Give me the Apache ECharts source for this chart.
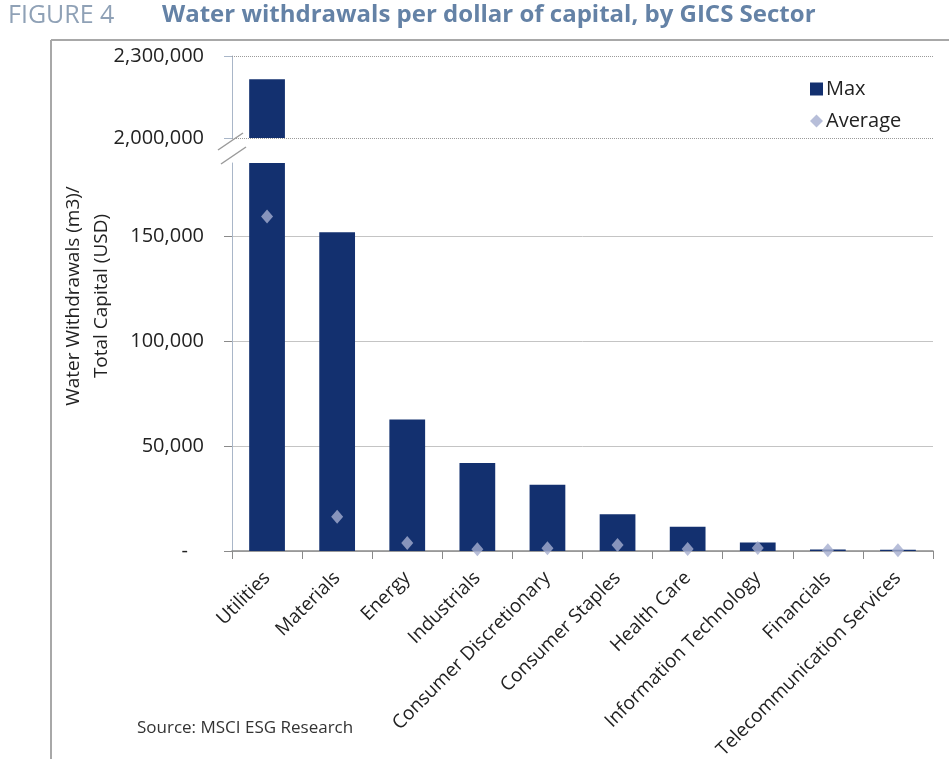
<!DOCTYPE html>
<html>
<head>
<meta charset="utf-8">
<script src="https://cdn.jsdelivr.net/npm/echarts@6/dist/echarts.min.js"></script>
<style>
  html, body { margin: 0; padding: 0; background: #fff; }
  #chart { width: 949px; height: 759px; }
</style>
</head>
<body>
<div id="chart"></div>
<script>
// GICS sectors and water withdrawals per dollar of total capital (m3 / USD)
const sectors = ['Utilities', 'Materials', 'Energy', 'Industrials', 'Consumer Discretionary',
  'Consumer Staples', 'Health Care', 'Information Technology', 'Financials', 'Telecommunication Services'];
const maxValues = [2215000, 152000, 62700, 42000, 31600, 17500, 11600, 4100, 700, 600];
const averageValues = [159500, 16300, 3800, 800, 1300, 2900, 1000, 1400, 300, 300];

// broken value axis: upper segment and lower segment
const upperMin = 2000000;
const upperMax = 2300000;
const upperTicks = [2000000, 2300000];
const lowerMax = 185000;
const lowerTicks = [0, 50000, 100000, 150000];

const FONT = 'Open Sans';
const BAR = '#13306f';
const DIAMOND = '#a5aecf';

const fmt = v => (v === 0 ? '{dash|-}' : v.toLocaleString('en-US'));

const chart = echarts.init(document.getElementById('chart'), null, { renderer: 'canvas' });

chart.setOption({
  animation: false,
  backgroundColor: '#fff',
  textStyle: { fontFamily: FONT },
  grid: [
    { left: 232, right: 16, top: 56, height: 82, containLabel: false, outerBoundsMode: 'none' },
    { left: 232, right: 16, top: 163, bottom: 208, containLabel: false, outerBoundsMode: 'none' }
  ],
  legend: {
    orient: 'vertical',
    left: 805,
    top: 74,
    itemGap: 12,
    itemWidth: 13,
    itemHeight: 13,
    textStyle: { fontFamily: FONT, fontSize: 20, color: '#222', padding: [0, 0, 0, -2] },
    data: [
      { name: 'Max', icon: 'rect' },
      { name: 'Average', icon: 'diamond', itemStyle: { color: DIAMOND } }
    ]
  },
  xAxis: [
    {
      type: 'category', gridIndex: 0, data: sectors,
      axisLine: { show: false }, axisTick: { show: false }, axisLabel: { show: false }
    },
    {
      type: 'category', gridIndex: 1, data: sectors,
      axisLine: { show: true, lineStyle: { color: '#8a8a8a', width: 1.5 } },
      axisTick: { show: true, length: 8, lineStyle: { color: '#8a8a8a' } },
      axisLabel: {
        interval: 0, rotate: 45, margin: 24,
        fontFamily: FONT, fontSize: 19, color: '#222'
      }
    }
  ],
  yAxis: [
    {
      type: 'value', gridIndex: 0, min: upperMin, max: upperMax, interval: 100000,
      axisLine: { show: true, lineStyle: { color: '#a9b6c8' } },
      axisTick: { show: true, length: 8, customValues: upperTicks, lineStyle: { color: '#a9b6c8' } },
      axisLabel: {
        customValues: upperTicks, margin: 28,
        fontFamily: FONT, fontSize: 20, color: '#222', formatter: fmt
      },
      splitLine: {
        show: true,
        lineStyle: { color: '#9a9a9a', type: 'dotted', width: 1 }
      }
    },
    {
      type: 'value', gridIndex: 1, min: 0, max: lowerMax, interval: 50000,
      axisLine: { show: true, lineStyle: { color: '#a9b6c8' } },
      axisTick: { show: true, length: 8, customValues: lowerTicks, lineStyle: { color: '#8a8a8a' } },
      axisLabel: {
        customValues: lowerTicks, margin: 28,
        fontFamily: FONT, fontSize: 20, color: '#222', formatter: fmt,
        rich: { dash: { fontFamily: FONT, fontSize: 20, color: '#222', padding: [0, 16, 0, 0] } }
      },
      splitLine: {
        show: true,
        lineStyle: { color: ['#c4c4c4', '#c4c4c4', '#c4c4c4', '#c4c4c4', 'rgba(0,0,0,0)'], width: 1 }
      }
    }
  ],
  series: [
    {
      name: 'Max', type: 'bar', xAxisIndex: 0, yAxisIndex: 0,
      barWidth: '51%', clip: true,
      itemStyle: { color: BAR },
      data: maxValues.map(v => (v > upperMin ? v : '-')),
      // dotted gridline along the top of the upper segment
      markLine: {
        silent: true, symbol: 'none', animation: false,
        label: { show: false },
        lineStyle: { color: '#9a9a9a', type: 'dotted', width: 1 },
        data: [{ yAxis: upperMax }]
      }
    },
    {
      name: 'Max', type: 'bar', xAxisIndex: 1, yAxisIndex: 1,
      barWidth: '51%', clip: true,
      itemStyle: { color: BAR },
      data: maxValues
    },
    {
      name: 'Average', type: 'scatter', xAxisIndex: 1, yAxisIndex: 1,
      symbol: 'diamond', symbolSize: [12, 14], clip: false, z: 5,
      itemStyle: { color: DIAMOND },
      data: averageValues
    }
  ],
  graphic: [
    {
      type: 'text', left: 8, top: 3,
      style: { text: 'FIGURE 4', fontFamily: FONT, fontSize: 25, fill: '#8fa1b6' }
    },
    {
      type: 'text', left: 162, top: 3,
      style: {
        text: 'Water withdrawals per dollar of capital, by GICS Sector',
        fontFamily: FONT, fontSize: 24, fontWeight: 'bold', fill: '#6482a6'
      }
    },
    // frame around the chart area
    {
      type: 'line', z: 10,
      shape: { x1: 51, y1: 40, x2: 949, y2: 40 },
      style: { stroke: '#a8a8a8', lineWidth: 2 }
    },
    {
      type: 'line', z: 10,
      shape: { x1: 51, y1: 40, x2: 51, y2: 759 },
      style: { stroke: '#a8a8a8', lineWidth: 2 }
    },
    // axis break marks
    {
      type: 'line', z: 10,
      shape: { x1: 218, y1: 150, x2: 243, y2: 133 },
      style: { stroke: '#9a9a9a', lineWidth: 1.5 }
    },
    {
      type: 'line', z: 10,
      shape: { x1: 221, y1: 164, x2: 246, y2: 147 },
      style: { stroke: '#9a9a9a', lineWidth: 1.5 }
    },
    // value axis title
    {
      type: 'text', x: 88, y: 296, rotation: Math.PI / 2,
      style: {
        text: 'Water Withdrawals (m3)/\nTotal Capital (USD)',
        fontFamily: FONT, fontSize: 19, lineHeight: 28, fill: '#222',
        align: 'center', verticalAlign: 'middle'
      }
    },
    {
      type: 'text', left: 137, top: 720,
      style: { text: 'Source: MSCI ESG Research', fontFamily: FONT, fontSize: 17, fill: '#333' }
    }
  ]
});
</script>
</body>
</html>
